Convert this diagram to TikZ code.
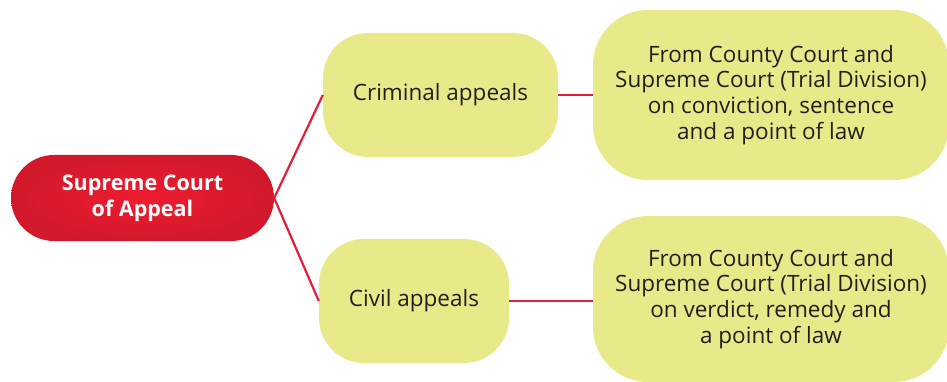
\documentclass[tikz,border=0pt]{standalone}
\usepackage{fontspec}
\setmainfont{Open Sans}
\definecolor{pillred}{HTML}{EF1C2F}
\definecolor{pilledge}{HTML}{D2192C}
\definecolor{boxyellow}{HTML}{E8EA8A}
\definecolor{txt}{HTML}{231F20}
\definecolor{linered}{HTML}{E31E3A}
\tikzset{
  ybox/.style={fill=boxyellow, text=txt, align=center, inner sep=0pt,
    font=\fontsize{22.5}{25.7}\selectfont},
  redpill/.style={inner color=pillred, outer color=pilledge, text=white, align=center, inner sep=0pt,
    rounded corners=43pt, minimum width=263pt, minimum height=86pt,
    font=\fontsize{21.5}{25.7}\selectfont\bfseries},
  conn/.style={draw=linered, line width=2.2pt},
}
\begin{document}
\begin{tikzpicture}[x=1pt,y=-1pt]
\useasboundingbox (0,0) rectangle (947,382);
\node[redpill] (sca) at (142.5,198) {Supreme Court\\of Appeal};
\node[ybox, rounded corners=45pt, minimum width=235pt, minimum height=124pt] (crim) at (440.5,95) {Criminal appeals};
\node[ybox, rounded corners=45pt, minimum width=190pt, minimum height=124pt] (civ) at (414,301) {Civil appeals};
\node[ybox, rounded corners=55pt, minimum width=356pt, minimum height=170pt] (crimd) at (771,95) {From County Court and\\Supreme Court (Trial Division)\\on conviction, sentence\\and a point of law};
\node[ybox, rounded corners=55pt, minimum width=356pt, minimum height=166pt] (civd) at (771,299) {From County Court and\\Supreme Court (Trial Division)\\on verdict, remedy and\\a point of law};
\draw[conn] (sca.east) -- (crim.west);
\draw[conn] (sca.east) -- (civ.west);
\draw[conn] (crim.east) -- (crimd.west |- crim.east);
\draw[conn] (civ.east) -- (civd.west |- civ.east);
\end{tikzpicture}
\end{document}
